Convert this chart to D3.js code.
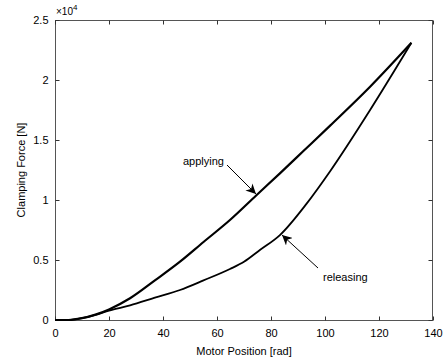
<!DOCTYPE html>
<meta charset="utf-8">
<script src="https://d3js.org/d3.v7.min.js"></script>
<style>
body{margin:0;background:#fff;}
text{font-family:"Liberation Sans",Arial,sans-serif;fill:#000;}
</style>
<body>
<div id="chart"></div>
<script>
// applying curve (motor position rad, clamping force N)
var applyX = [0, 5, 10, 15, 20, 27.8, 37, 46.3, 55, 64.8, 74.7, 83.3, 92, 101.9, 116.7, 132];
var applyY = [0, 0, 150, 450, 880, 1810, 3300, 4860, 6500, 8330, 10420, 12220, 14080, 16200, 19440, 23100];
// releasing curve
var relX = [0, 5, 10, 15, 20, 27.8, 37, 46.3, 55, 64.8, 70, 76, 83.3, 93.2, 101.9, 116.7, 132];
var relY = [0, 0, 150, 420, 780, 1220, 1860, 2500, 3300, 4250, 4850, 5850, 7080, 9700, 12400, 17500, 23100];
var xTicks = [0, 20, 40, 60, 80, 100, 120, 140];
var yTicks = [0, 0.5, 1, 1.5, 2, 2.5];

var W = 447, H = 358;
var m = {l:55, r:14, t:20, b:38};
var svg = d3.select("#chart").append("svg").attr("width", W).attr("height", H);

var x = d3.scaleLinear().domain([0,140]).range([m.l, W-m.r]);
var y = d3.scaleLinear().domain([0,2.5]).range([H-m.b, m.t]);

// box
svg.append("rect").attr("x", m.l+0.5).attr("y", m.t+0.5)
  .attr("width", W-m.r-m.l-1).attr("height", H-m.b-m.t)
  .attr("fill","none").attr("stroke","#555");

var ax = svg.append("g").attr("transform","translate(0,"+(H-m.b+0.5)+")")
  .call(d3.axisBottom(x).tickValues(xTicks).tickSizeInner(-4).tickSizeOuter(0).tickPadding(9));
var ay = svg.append("g").attr("transform","translate("+(m.l+0.5)+",0)")
  .call(d3.axisLeft(y).tickValues(yTicks).tickSizeInner(-4).tickSizeOuter(0).tickPadding(7).tickFormat(d3.format("")));
var axT = svg.append("g").attr("transform","translate(0,"+(m.t+0.5)+")")
  .call(d3.axisTop(x).tickValues(xTicks).tickSizeInner(-4).tickSizeOuter(0).tickFormat(""));
var ayR = svg.append("g").attr("transform","translate("+(W-m.r-0.5)+",0)")
  .call(d3.axisRight(y).tickValues(yTicks).tickSizeInner(-4).tickSizeOuter(0).tickFormat(""));
[ax,ay,axT,ayR].forEach(function(g){
  g.select(".domain").remove();
  g.selectAll(".tick line").attr("stroke","#333");
  g.selectAll(".tick text").style("font-size","11px").attr("font-family",null);
});

// exponent
var ex = svg.append("text").attr("x", m.l+1).attr("y", m.t-5).style("font-size","10px");
ex.append("tspan").text("\u00d710");
ex.append("tspan").attr("dy",-5).style("font-size","8px").text("4");

var line = d3.line().curve(d3.curveMonotoneX)
  .x(function(d){return x(d[0]);}).y(function(d){return y(d[1]/1e4);});

svg.append("path").datum(applyX.map(function(v,i){return [v, applyY[i]];}))
  .attr("d", line).attr("fill","none").attr("stroke","#000").attr("stroke-width",2.2);
svg.append("path").datum(relX.map(function(v,i){return [v, relY[i]];}))
  .attr("d", line).attr("fill","none").attr("stroke","#000").attr("stroke-width",1.8);

// arrows
svg.append("defs").append("marker").attr("id","ah")
  .attr("viewBox","0 0 10 10").attr("refX",10).attr("refY",5)
  .attr("markerWidth",10).attr("markerHeight",10).attr("markerUnits","userSpaceOnUse")
  .attr("orient","auto")
  .append("path").attr("d","M0,0 L10,5 L0,10 L3,5 Z").attr("fill","#000");

svg.append("line").attr("x1",227).attr("y1",165).attr("x2",256).attr("y2",194)
  .attr("stroke","#000").attr("stroke-width",1).attr("marker-end","url(#ah)");
svg.append("line").attr("x1",318).attr("y1",268).attr("x2",282).attr("y2",235)
  .attr("stroke","#000").attr("stroke-width",1).attr("marker-end","url(#ah)");

svg.append("text").attr("x",183).attr("y",165).style("font-size","11px").text("applying");
svg.append("text").attr("x",323).attr("y",281).style("font-size","11px").text("releasing");

svg.append("text").attr("x",(m.l+W-m.r)/2).attr("y",355).attr("text-anchor","middle")
  .style("font-size","11px").text("Motor Position [rad]");
svg.append("text").attr("transform","translate(25,"+((m.t+H-m.b)/2)+") rotate(-90)")
  .attr("text-anchor","middle").style("font-size","11px").text("Clamping Force [N]");
</script>
</body>
